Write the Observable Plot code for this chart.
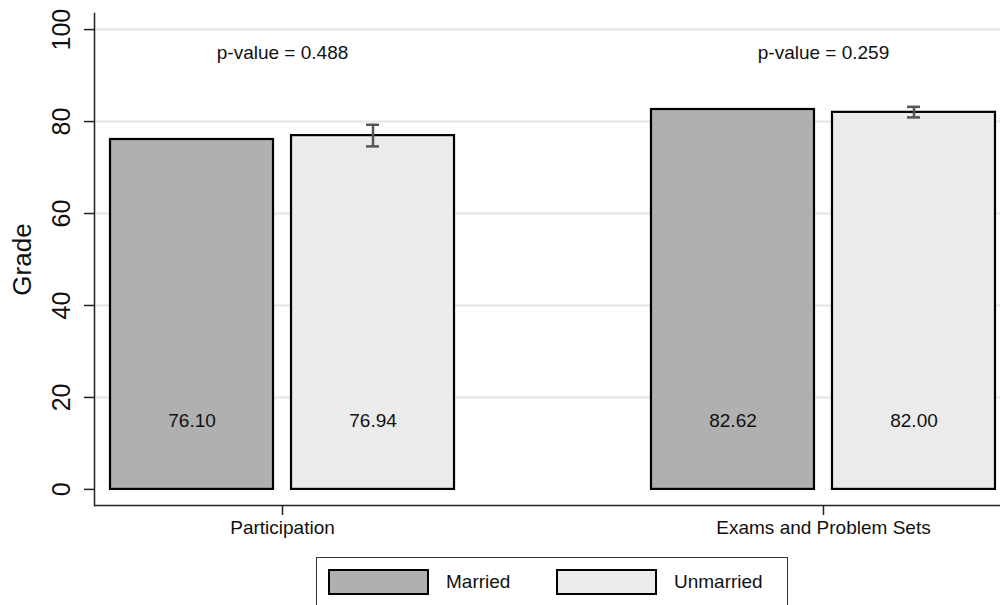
<!DOCTYPE html>
<html>
<head>
<meta charset="utf-8">
<script src="https://cdn.jsdelivr.net/npm/d3@7"></script>
<script src="https://cdn.jsdelivr.net/npm/@observablehq/plot@0.6"></script>
<style>
  html, body { margin: 0; padding: 0; background: #fff; overflow: hidden; }
  #wrap { width: 1000px; height: 605px; overflow: hidden; font-family: "Liberation Sans", Arial, sans-serif; }
  #chart { width: 1011px; height: 545px; }
  #chart svg { max-width: none !important; width: 1011px; height: 545px; display: block; }
  #legend {
    margin-left: 316px; margin-top: 12px; width: 472px; height: 60px;
    border: 1.5px solid #333; box-sizing: border-box; position: relative;
  }
  .item { position: absolute; top: 11px; display: flex; align-items: center; font-size: 19px; color: #111; }
  .sw { width: 97px; height: 22px; border: 2px solid #000; margin-right: 17px; }
</style>
</head>
<body>
<div id="wrap"><div id="chart"></div><div id="legend"></div></div>
<script>
// ---- data ----
const groups = ["Participation", "Exams and Problem Sets"];
const series = ["Married", "Unmarried"];
const married = [76.10, 82.62];
const unmarried = [76.94, 82.00];
const unmarriedLo = [74.6, 80.9];
const unmarriedHi = [79.3, 83.2];
const pValues = ["0.488", "0.259"];
const yTicks = [0, 20, 40, 60, 80, 100];
const gridTicks = [20, 40, 60, 80, 100];
const yDomain = [-3.5, 103.5];
const colors = ["#b0b0b0", "#ebebeb"];

const rows = groups.map((g, i) => ({
  group: g, married: married[i], unmarried: unmarried[i],
  lo: unmarriedLo[i], hi: unmarriedHi[i], p: "p-value = " + pValues[i]
}));

const font = "Liberation Sans, Arial, sans-serif";
const half = 90.5; // offset of bar centre from group centre (px)

const chart = Plot.plot({
  width: 1011, height: 545,
  marginLeft: 94, marginRight: 0, marginTop: 13, marginBottom: 40,
  style: {fontFamily: font, color: "#111", background: "#fff"},
  x: {domain: groups, paddingInner: 0.3641, paddingOuter: 0.0296, round: false, axis: null},
  y: {domain: yDomain, axis: null},
  marks: [
    Plot.ruleY(gridTicks, {stroke: "#e4e4e4", strokeWidth: 2}),
    Plot.barY(rows, {x: "group", y: "married", fill: colors[0], stroke: "#000", strokeWidth: 2.2, insetRight: 181}),
    Plot.barY(rows, {x: "group", y: "unmarried", fill: colors[1], stroke: "#000", strokeWidth: 2.2, insetLeft: 181}),
    Plot.ruleX(rows, {x: "group", y1: "lo", y2: "hi", dx: half, stroke: "#555", strokeWidth: 2.5}),
    Plot.tickY(rows, {x: "group", y: "lo", insetLeft: 256, insetRight: 75, stroke: "#555", strokeWidth: 2.5}),
    Plot.tickY(rows, {x: "group", y: "hi", insetLeft: 256, insetRight: 75, stroke: "#555", strokeWidth: 2.5}),
    Plot.text(rows, {x: "group", y: () => 15, text: d => d.married.toFixed(2), dx: -half, fontSize: 19, fill: "#111"}),
    Plot.text(rows, {x: "group", y: () => 15, text: d => d.unmarried.toFixed(2), dx: half, fontSize: 19, fill: "#111"}),
    Plot.text(rows, {x: "group", y: () => 95, text: "p", fontSize: 19, fill: "#111"}),
    Plot.ruleY([yDomain[0]], {stroke: "#222", strokeWidth: 1.5}),
    Plot.frame({anchor: "left", stroke: "#222", strokeWidth: 1.5}),
    Plot.axisX({tickSize: 10, tickPadding: 5, fontSize: 19, label: null, strokeWidth: 1.5, stroke: "#222"}),
    Plot.axisY({ticks: yTicks, tickFormat: d => String(d), tickSize: 10, tickPadding: 15, tickRotate: -90, fontSize: 25, label: null, strokeWidth: 1.5, stroke: "#222"}),
    Plot.axisY({ticks: [], label: "Grade", labelAnchor: "center", labelArrow: "none", labelOffset: 82, fontSize: 26})
  ]
});
document.getElementById("chart").appendChild(chart);

// ---- legend ----
const legend = document.getElementById("legend");
const lefts = [11, 239];
series.forEach((s, i) => {
  const item = document.createElement("div");
  item.className = "item";
  item.style.left = lefts[i] + "px";
  const sw = document.createElement("div");
  sw.className = "sw";
  sw.style.background = colors[i];
  item.appendChild(sw);
  const t = document.createElement("span");
  t.textContent = s;
  item.appendChild(t);
  legend.appendChild(item);
});
</script>
</body>
</html>
